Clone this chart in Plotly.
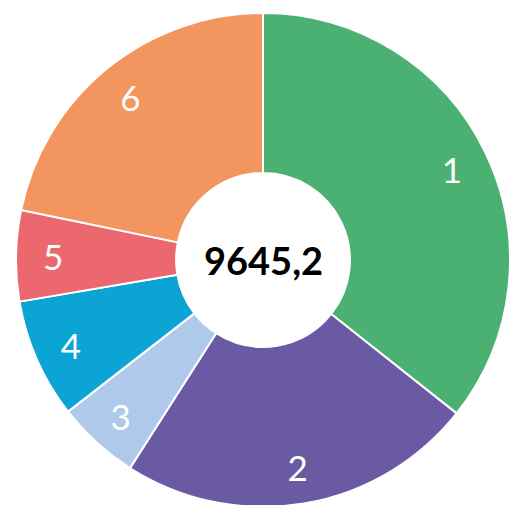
import plotly.graph_objects as go

categories = ["1", "2", "3", "4", "5", "6"]
values = [3440, 2256, 523, 755, 573, 2098.2]
colors = ["#4BB172", "#6A5AA3", "#AEC9E9", "#0CA3D5", "#EA686E", "#F2955F"]
total_label = "9645,2"

fig = go.Figure()

# coloured ring
fig.add_trace(go.Pie(
    labels=categories, values=values, sort=False, direction="clockwise", rotation=0,
    hole=0.352, marker=dict(colors=colors, line=dict(color="white", width=2)),
    textinfo="none", hoverinfo="label+value", showlegend=False,
))

# transparent overlay ring used only to place the labels near the outer edge
fig.add_trace(go.Pie(
    labels=categories, values=values, sort=False, direction="clockwise", rotation=0,
    hole=0.70, marker=dict(colors=["rgba(0,0,0,0)"] * len(values), line=dict(width=0)),
    textinfo="label", textposition="inside", insidetextorientation="horizontal",
    insidetextfont=dict(family="Lato", size=35, color="white"),
    hoverinfo="skip", showlegend=False,
))

fig.add_annotation(
    text=f"<b>{total_label}</b>", x=0.5, y=0.5, xref="paper", yref="paper",
    showarrow=False, font=dict(family="Lato", size=38, color="black"),
)

fig.update_layout(
    width=518, height=499,
    margin=dict(l=8, r=16, t=5, b=0),
    paper_bgcolor="white", plot_bgcolor="white",
)

fig.write_html("out.html")
